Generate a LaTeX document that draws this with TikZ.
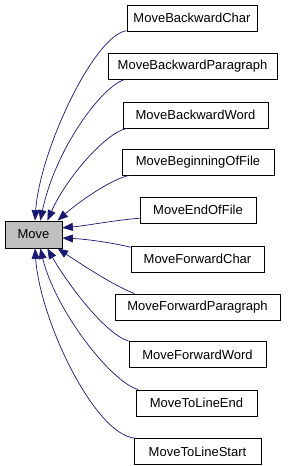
\documentclass[tikz,border=0pt]{standalone}
\usepackage{fontspec}
\setmainfont{Liberation Sans}
\usetikzlibrary{arrows.meta}
\definecolor{navyedge}{RGB}{25,25,112}
\definecolor{boxgray}{RGB}{191,191,191}
\tikzset{
    classbox/.style={draw=black, line width=0.8pt, minimum height=26pt, inner sep=0pt, font=\fontsize{13}{15}\selectfont},
    inherit/.style={navyedge, line width=0.7pt, -{Triangle[length=10.5pt, width=8pt]}}
}

\begin{document}
\begin{tikzpicture}[x=1pt, y=-1pt]
    \useasboundingbox (0,0) rectangle (290,466);
    % Base class
    \node[classbox, fill=boxgray, minimum width=57pt, minimum height=27pt] (move) at (33.5,234.5) {Move};
    % Derived classes
    \foreach \n/\t/\x/\y/\w in {bchar/MoveBackwardChar/192/18/130,
        bpara/MoveBackwardParagraph/192.5/66.5/169,
        bword/MoveBackwardWord/195.5/115/145,
        bfile/MoveBeginningOfFile/198/162/152,
        efile/MoveEndOfFile/198/210/116,
        fchar/MoveForwardChar/197.5/259/133,
        fpara/MoveForwardParagraph/197.5/307/165,
        fword/MoveForwardWord/197.5/354.5/137,
        lend/MoveToLineEnd/196.5/403/121,
        lstart/MoveToLineStart/197.5/451.5/127} {
        \node[classbox, minimum width=\w pt] (\n) at (\x,\y) {\t};
    }
    % Inheritance edges
    \draw[inherit] (bchar.191) .. controls +(-32,4) and +(5,-71) .. (move.84);
    \draw[inherit] (bpara.191) .. controls +(-23,8) and +(15,-71) .. (move.64);
    \draw[inherit] (bword.191) .. controls +(-22,5) and +(18,-41) .. (move.45);
    \draw[inherit] (bfile.191) .. controls +(-21,5) and +(18,-16) .. (move.30);
    \draw[inherit] (efile.188) .. controls +(-25,2) and +(23,-2) .. (move.13);
    \draw[inherit] (fchar.170) .. controls +(-21,-5) and +(23,1) .. (move.353);
    \draw[inherit] (fpara.168) .. controls +(-23,-9) and +(18,12) .. (move.330);
    \draw[inherit] (fword.169) .. controls +(-25,-8) and +(18,32) .. (move.315);
    \draw[inherit] (lend.167) .. controls +(-27,-7) and +(15,62) .. (move.296);
    \draw[inherit] (lstart.168) .. controls +(-40,-4) and +(5,72) .. (move.276);
\end{tikzpicture}
\end{document}
